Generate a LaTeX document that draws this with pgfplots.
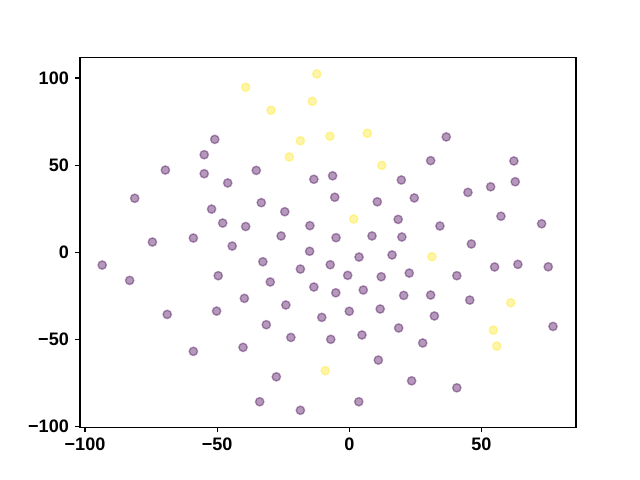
\documentclass[border=0pt]{standalone}
\usepackage{pgfplots}
\pgfplotsset{compat=1.18}
\usepackage{fontspec}
\setmainfont{Liberation Sans}
\definecolor{vpurple}{RGB}{68,1,84}
\definecolor{vyellow}{RGB}{253,231,37}
\begin{document}
\begin{tikzpicture}
\begin{axis}[
  name=ax,
  scale only axis,
  width=357.1pt, height=266.1pt,
  xmin=-101.9, xmax=85.8,
  ymin=-100.3, ymax=111.7,
  xtick={-100,-50,0,50},
  xticklabels={−100,−50,0,50},
  ytick={-100,-50,0,50,100},
  yticklabels={−100,−50,0,50,100},
  tick align=outside,
  major tick length=3.5pt,
  tick style={line width=0.8pt, black},
  axis line style={line width=0.8pt},
  xtick pos=bottom, ytick pos=left,
  ticklabel style={font=\fontsize{13}{15}\selectfont\bfseries},
  xticklabel style={yshift=-1pt},
  yticklabel style={xshift=-1pt},
  axis on top=false,
]
\addplot[only marks, mark=*, mark size=3pt,
  mark options={fill=vpurple, draw=vpurple, line width=1pt, fill opacity=0.4, draw opacity=0.4}]
coordinates {
(-93.5,-7.3) (-83.1,-16.1) (-81.2,31.0) (-74.5,5.9) (-69.6,47.2) (-68.9,-35.6)
(-59.0,8.2) (-59.0,-56.8) (-54.9,56.0) (-54.9,45.1) (-52.1,24.8) (-50.9,64.8)
(-49.6,-13.4) (-50.2,-33.7) (-47.9,16.8) (-46.0,39.8) (-44.3,3.6) (-39.7,-26.4)
(-40.2,-54.5) (-39.2,14.8) (-35.2,47.0) (-33.3,28.5) (-32.7,-5.4) (-33.9,-85.7)
(-31.4,-41.5) (-29.9,-17.0) (-27.6,-71.4) (-25.8,9.4) (-24.4,23.3) (-24.0,-30.2)
(-22.1,-48.8) (-18.5,-9.6) (-18.5,-90.6) (-14.9,15.3) (-15.0,0.6) (-13.4,41.9)
(-13.4,-19.9) (-10.4,-37.3) (-7.0,-49.9) (-7.2,-7.1) (-6.3,43.9) (-5.5,31.6)
(-5.1,-23.2) (-5.0,8.4) (-0.6,-13.2) (0.0,-33.8) (3.7,-2.7) (3.6,-85.7)
(5.3,-21.6) (4.8,-47.4) (8.6,9.4) (10.6,29.0) (12.1,-14.0) (11.7,-32.5)
(11.0,-61.8) (16.2,-1.5) (18.7,-43.4) (19.7,41.5) (18.5,18.9) (19.9,8.8)
(20.6,-24.7) (22.7,-11.9) (24.6,31.2) (23.6,-73.7) (27.8,-52.0) (30.8,52.6)
(30.8,-24.5) (32.2,-36.5) (34.3,15.1) (36.7,66.2) (40.7,-13.4) (40.7,-77.7)
(44.9,34.4) (46.2,4.8) (45.6,-27.4) (53.5,37.6) (55.0,-8.4) (57.4,20.7)
(62.3,52.4) (62.8,40.5) (63.8,-6.9) (72.8,16.4) (75.3,-8.3) (77.1,-42.5)
};
\addplot[only marks, mark=*, mark size=3pt,
  mark options={fill=vyellow, draw=vyellow, line width=1pt, fill opacity=0.4, draw opacity=0.4}]
coordinates {
(-39.2,94.7) (-12.3,102.3) (-14.0,86.6) (-29.6,81.5) (-18.5,64.0) (-7.3,66.6)
(6.8,68.3) (-22.7,54.7) (12.3,49.9) (1.7,19.1) (-9.1,-67.9) (31.3,-2.5)
(61.1,-28.9) (54.5,-44.6) (55.8,-53.8)
};
\end{axis}
\path[use as bounding box] ([xshift=-57.6pt,yshift=-38pt]ax.south west) rectangle ([xshift=46.08pt,yshift=41.47pt]ax.north east);
\end{tikzpicture}
\end{document}
